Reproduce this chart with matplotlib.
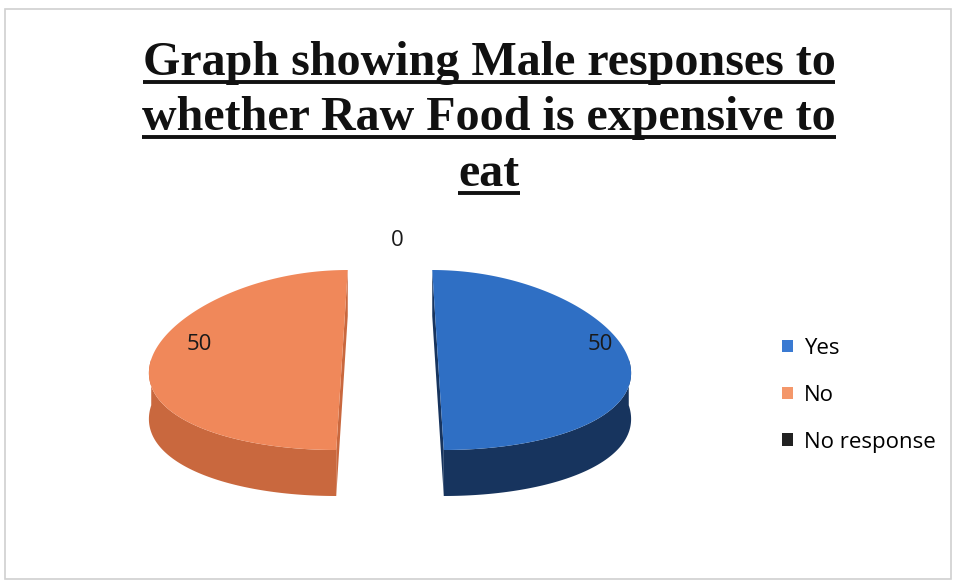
import numpy as np
import matplotlib
matplotlib.use("Agg")
import matplotlib.pyplot as plt
from matplotlib.patches import Polygon, Patch, Rectangle

# responses
categories = ["Yes", "No", "No response"]
values = [50, 50, 0]
top_colors = ["#2F6FC4", "#F0885A", "#1E1E1E"]
side_colors = ["#17345E", "#C9683E", "#111111"]
legend_colors = ["#3A7AD2", "#F4976A", "#222222"]

title_lines = ["Graph showing Male responses to",
               "whether Raw Food is expensive to",
               "eat"]

W, H = 958, 586
fig = plt.figure(figsize=(W / 100, H / 100), dpi=100)
ax = fig.add_axes([0, 0, 1, 1])
ax.set_xlim(0, W)
ax.set_ylim(H, 0)
ax.axis("off")

# chart frame
ax.add_patch(Rectangle((5, 9), 946, 570, fill=False, ec="#d0d0d0", lw=1.2))

# pie geometry (screen pixels, y grows downward)
cx, cy = 390, 360
rx, ry = 191, 90
depth = 46
explode = 48
persp = 0.12


def proj(theta, r, z, sign):
    u = r * np.cos(theta)
    v = -r * np.sin(theta)
    s = 1 + persp * v
    x = cx + (u * rx + sign * explode) * s
    y = cy + v * ry + z
    return x, y


total = float(sum(values))
start = np.pi / 2
slices = []
for cat, val, tc, sc in zip(categories, values, top_colors, side_colors):
    sweep = 2 * np.pi * val / total
    # clockwise from the top
    t0, t1 = start - sweep, start
    mid = (t0 + t1) / 2
    sign = np.sign(np.cos(mid)) if val > 0 else 0
    slices.append((cat, val, t0, t1, mid, sign, tc, sc))
    start = t0

for cat, val, t0, t1, mid, sign, tc, sc in slices:
    if val == 0:
        continue
    # flat cut faces
    for t in (t0, t1):
        xa, ya = proj(t, 0, 0, sign)
        xb, yb = proj(t, 1, 0, sign)
        xc, yc = proj(t, 1, depth, sign)
        xd, yd = proj(t, 0, depth, sign)
        ax.add_patch(Polygon([(xa, ya), (xb, yb), (xc, yc), (xd, yd)],
                             closed=True, fc=sc, ec="none"))
    # outer wall, front part only
    th = np.linspace(t0, t1, 200)
    front = th[np.sin(th) <= 0.02]
    if len(front) > 1:
        xt, yt = proj(front, 1, 0, sign)
        xbm, ybm = proj(front[::-1], 1, depth, sign)
        pts = np.column_stack([np.r_[xt, xbm], np.r_[yt, ybm]])
        ax.add_patch(Polygon(pts, closed=True, fc=sc, ec="none"))
    # top surface
    xt, yt = proj(th, 1, 0, sign)
    x0, y0 = proj(t0, 0, 0, sign)
    pts = np.column_stack([np.r_[x0, xt], np.r_[y0, yt]])
    ax.add_patch(Polygon(pts, closed=True, fc=tc, ec="none"))

# value labels
for cat, val, t0, t1, mid, sign, tc, sc in slices:
    if val == 0:
        lx, ly = proj(mid, 1.33, 0, sign)
        lx += 7
    else:
        lx, ly = proj(mid, 0.8, -16, sign)
        lx += 10
    ax.text(lx, ly, f"{val:g}", ha="center", va="center",
            fontsize=16, family="Open Sans", color="#1a1a1a")

# title with underlines
baselines = [75, 130, 186]
fig.canvas.draw()
renderer = fig.canvas.get_renderer()
inv = ax.transData.inverted()
for line, yb in zip(title_lines, baselines):
    t = ax.text(489, yb, line, ha="center", va="baseline", fontsize=34.6,
                family="Liberation Serif", weight="bold", color="#111111")
    bb = t.get_window_extent(renderer)
    (xl, _), (xr, _) = inv.transform([(bb.x0, bb.y0), (bb.x1, bb.y1)])
    ax.plot([xl, xr], [yb + 7, yb + 7], color="#111111", lw=2.8,
            solid_capstyle="butt")

handles = [Patch(fc=c, ec="none") for c in legend_colors]
fig.legend(handles, categories, loc="upper left",
           bbox_to_anchor=(762 / W, 1 - 318 / H), frameon=False,
           prop={"family": "Open Sans", "size": 16},
           handlelength=0.5, handleheight=0.5, handletextpad=0.5,
           labelspacing=1.16)

fig.savefig("out.png", dpi=100)
